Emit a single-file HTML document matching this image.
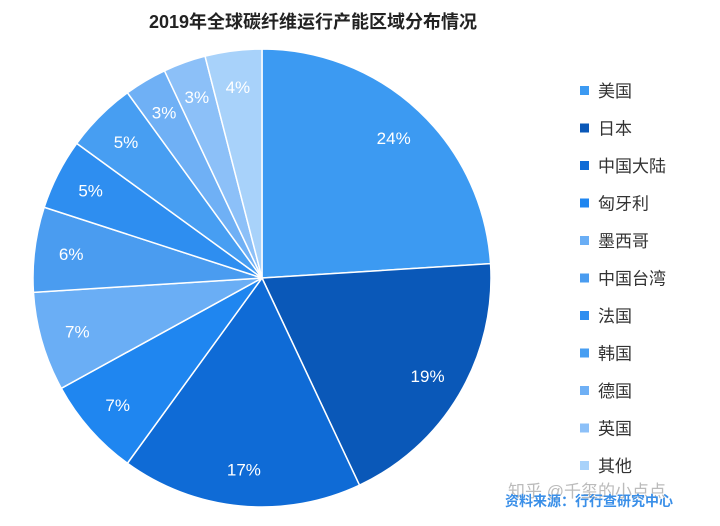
<!DOCTYPE html>
<html><head><meta charset="utf-8"><style>
body{margin:0;background:#fff;width:720px;height:521px;overflow:hidden;font-family:"Liberation Sans","Noto Sans CJK SC",sans-serif}
</style></head><body>
<svg id="c" width="720" height="521">
<text x="313" y="28" text-anchor="middle" font-size="18" font-weight="bold" fill="#222" font-family="Liberation Sans, Noto Sans CJK SC, sans-serif">2019年全球碳纤维运行产能区域分布情况</text>
<g id="slices"></g><g id="labels"></g><g id="legend"></g>
<text x="508" y="497" font-size="17" fill="#bbb" font-family="Liberation Sans, Noto Sans CJK SC, sans-serif">知乎 @千玺的小点点</text>
<text x="505" y="506" font-size="14" font-weight="bold" fill="#3a8fe8" font-family="Liberation Sans, Noto Sans CJK SC, sans-serif">资料来源：行行查研究中心</text>
</svg>
<script>
const categories=["美国","日本","中国大陆","匈牙利","墨西哥","中国台湾","法国","韩国","德国","英国","其他"];
const values=[24,19,17,7,7,6,5,5,3,3,4];
const colors=["#3c9af2","#0a58b8","#0f6bd6","#1f86f0","#6aaef5","#4a9cf0","#2e8ef0","#479ef2","#6fb0f5","#8cc0f8","#a8d2fa"];
const NS="http://www.w3.org/2000/svg";
const cx=262,cy=278,r=229;
const total=values.reduce((a,b)=>a+b,0);
const sg=document.getElementById('slices'),lg=document.getElementById('labels'),leg=document.getElementById('legend');
let a=-Math.PI/2;
values.forEach((v,i)=>{
  const da=v/total*2*Math.PI,a2=a+da;
  const x1=cx+r*Math.cos(a),y1=cy+r*Math.sin(a),x2=cx+r*Math.cos(a2),y2=cy+r*Math.sin(a2);
  const p=document.createElementNS(NS,'path');
  p.setAttribute('d',`M${cx},${cy}L${x1},${y1}A${r},${r} 0 ${da>Math.PI?1:0} 1 ${x2},${y2}Z`);
  p.setAttribute('fill',colors[i]);p.setAttribute('stroke','#fff');p.setAttribute('stroke-width','1.5');
  
  
  sg.appendChild(p);
  const m=(a+a2)/2,lr=r*0.84;
  const t=document.createElementNS(NS,'text');
  t.setAttribute('x',cx+lr*Math.cos(m));t.setAttribute('y',cy+lr*Math.sin(m)+6);
  t.setAttribute('text-anchor','middle');t.setAttribute('font-size','17');t.setAttribute('fill','#fff');
  t.textContent=v+'%';
  
  
  lg.appendChild(t);
  const ly=91+i*37.5;
  const s=document.createElementNS(NS,'rect');
  s.setAttribute('x',580);s.setAttribute('y',ly-5);s.setAttribute('width',9);s.setAttribute('height',9);s.setAttribute('fill',colors[i]);
  
  
  leg.appendChild(s);
  const lt=document.createElementNS(NS,'text');
  lt.setAttribute('x',598);lt.setAttribute('y',ly+6);lt.setAttribute('font-size','17');lt.setAttribute('fill','#333');
  lt.setAttribute('font-family','Liberation Sans, Noto Sans CJK SC, sans-serif');
  lt.textContent=categories[i];
  
  
  leg.appendChild(lt);
  a=a2;
});
</script>
</body></html>
